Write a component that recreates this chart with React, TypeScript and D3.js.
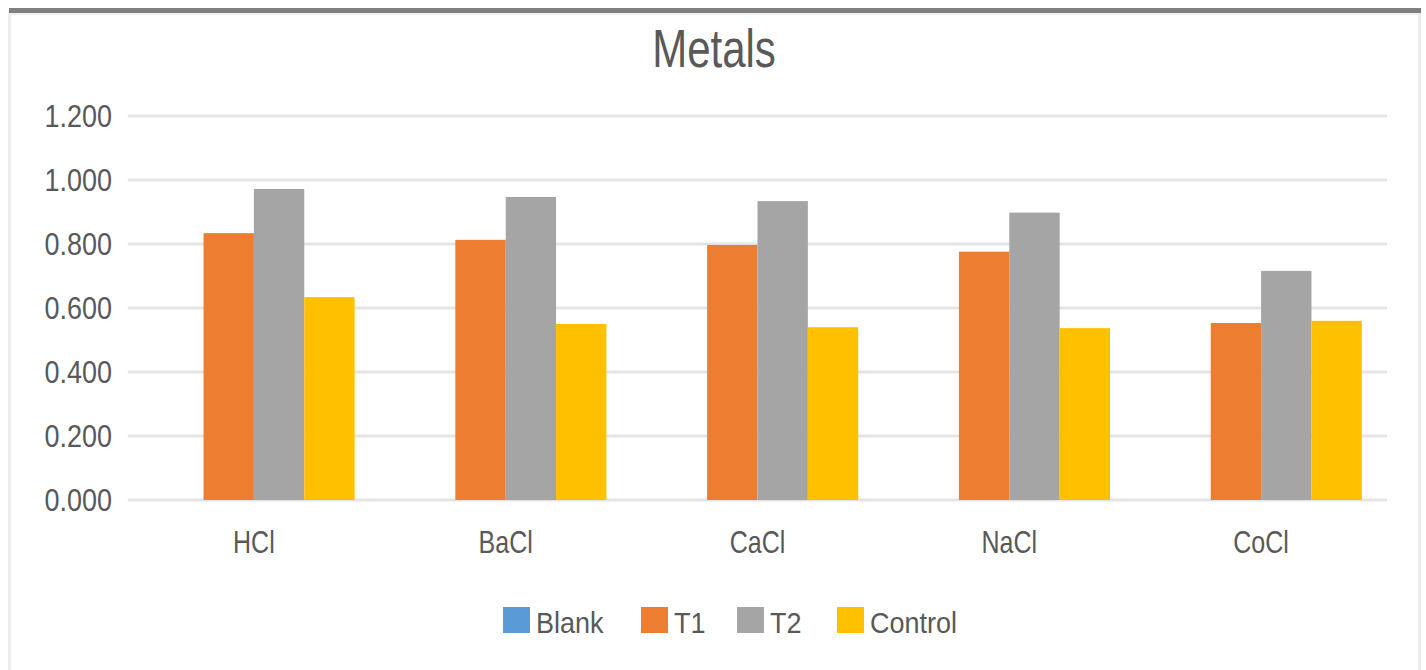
import React from "react";
import * as d3 from "d3";

const categories = ["HCl", "BaCl", "CaCl", "NaCl", "CoCl"];
const seriesNames = ["Blank", "T1", "T2", "Control"];
const blankValues = [0, 0, 0, 0, 0];
const t1Values = [0.834, 0.813, 0.797, 0.776, 0.553];
const t2Values = [0.972, 0.947, 0.934, 0.898, 0.716];
const controlValues = [0.634, 0.55, 0.54, 0.537, 0.56];
const yTicks = [0, 0.2, 0.4, 0.6, 0.8, 1.0, 1.2];
const colors = ["#5B9BD5", "#ED7D31", "#A5A5A5", "#FFC000"];

const W = 1426;
const H = 670;
const plotLeft = 128;
const plotRight = 1387;
const plotTop = 116;
const plotBottom = 500;
const textColor = "#595959";
const font = "'Liberation Sans', Arial, sans-serif";

export default function App() {
  const seriesValues = [blankValues, t1Values, t2Values, controlValues];
  const x = d3.scaleBand<string>().domain(categories).range([plotLeft, plotRight]).padding(0);
  const xi = d3
    .scaleBand<string>()
    .domain(seriesNames)
    .range([0, x.bandwidth()])
    .paddingInner(0)
    .paddingOuter(0.5);
  const y = d3.scaleLinear().domain([0, 1.2]).range([plotBottom, plotTop]);
  const fmt = d3.format(".3f");
  const legendX = [503, 641, 737, 837];

  return (
    <svg
      width={W}
      height={H}
      style={{ position: "absolute", left: 0, top: 0, background: "#fff" }}
    >
      <rect x={0} y={0} width={W} height={H} fill="#fff" />
      {/* frame */}
      <rect x={9} y={8} width={1412} height={5} fill="#808080" />
      <rect x={9} y={13} width={1412} height={2} fill="#eeeeee" />
      <rect x={8} y={13} width={3} height={H} fill="#ececec" />
      <rect x={1418} y={13} width={3} height={H} fill="#ececec" />

      {/* title */}
      <text
        transform={`translate(${W / 2 + 1},67) scale(1,1.28)`}
        textAnchor="middle"
        fontFamily={font}
        fontSize={42}
        fill={textColor}
      >
        Metals
      </text>

      {/* gridlines */}
      {yTicks.map((t) => (
        <line
          key={"g" + t}
          x1={plotLeft}
          x2={plotRight}
          y1={y(t)}
          y2={y(t)}
          stroke="#e4e4e4"
          strokeWidth={3}
        />
      ))}

      {/* tick labels */}
      {yTicks.map((t) => (
        <text
          key={"t" + t}
          transform={`translate(112,${y(t) + 11}) scale(1,1.15)`}
          textAnchor="end"
          fontFamily={font}
          fontSize={27}
          fill={textColor}
        >
          {fmt(t)}
        </text>
      ))}

      {/* bars */}
      {categories.map((c, ci) => (
        <g key={c} transform={`translate(${x(c)},0)`}>
          {seriesNames.map((s, si) => {
            const v = seriesValues[si][ci];
            return (
              <rect
                key={s}
                x={xi(s)}
                y={y(v)}
                width={xi.bandwidth()}
                height={plotBottom - y(v)}
                fill={colors[si]}
              />
            );
          })}
        </g>
      ))}

      {/* category labels */}
      {categories.map((c) => (
        <text
          key={"c" + c}
          transform={`translate(${(x(c) as number) + x.bandwidth() / 2},553) scale(1,1.22)`}
          textAnchor="middle"
          fontFamily={font}
          fontSize={25}
          fill={textColor}
        >
          {c}
        </text>
      ))}

      {/* legend */}
      {seriesNames.map((s, si) => (
        <g key={"l" + s} transform={`translate(${legendX[si]},607)`}>
          <rect x={0} y={0} width={27} height={26} fill={colors[si]} />
          <text
            transform={`translate(33,26) scale(1,1.1)`}
            fontFamily={font}
            fontSize={27}
            fill={textColor}
          >
            {s}
          </text>
        </g>
      ))}
    </svg>
  );
}
